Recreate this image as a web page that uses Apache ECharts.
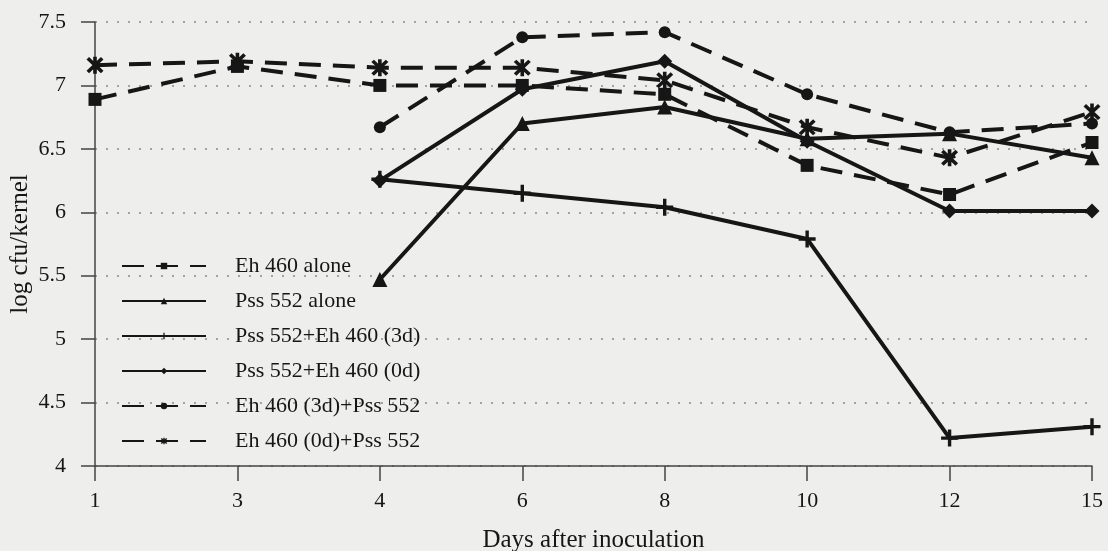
<!DOCTYPE html>
<html>
<head>
<meta charset="utf-8">
<script src="https://cdn.jsdelivr.net/npm/echarts@6/dist/echarts.min.js"></script>
<style>
  html, body { margin: 0; padding: 0; background: #eeeeec; }
  #chart { width: 1108px; height: 551px; }
</style>
</head>
<body>
<div id="chart"></div>
<script>
// days after inoculation
const days = ['1', '3', '4', '6', '8', '10', '12', '15'];

// log cfu/kernel for each treatment
const ehAlone = [6.89, 7.15, 7.0, 7.0, 6.93, 6.37, 6.14, 6.55];
const pssAlone = [null, null, 5.47, 6.70, 6.83, 6.58, 6.62, 6.43];
const pssEh3d = [null, null, 6.26, 6.15, 6.04, 5.79, 4.22, 4.31];
const pssEh0d = [null, null, 6.25, 6.97, 7.19, 6.56, 6.01, 6.01];
const eh3dPss = [null, null, 6.67, 7.38, 7.42, 6.93, 6.63, 6.70];
const eh0dPss = [7.16, 7.19, 7.14, 7.14, 7.04, 6.67, 6.43, 6.79];

const ink = '#161616';
const serif = 'Liberation Serif';

const plusPath = 'path://M4,0h2v4h4v2h-4v4h-2v-4h-4v-2h4z';
const starPath = 'path://M4,0h2v10h-2z' +
    'M1.71,0.29L9.71,8.29L8.29,9.71L0.29,1.71z' +
    'M9.71,1.71L1.71,9.71L0.29,8.29L8.29,0.29z';

function line(name, data, dashed, symbol, size) {
    return {
        name: name,
        type: 'line',
        data: data,
        symbol: symbol,
        symbolSize: size,
        showAllSymbol: true,
        lineStyle: { color: ink, width: 4, type: dashed ? [22, 12] : 'solid' },
        itemStyle: { color: ink },
        emphasis: { disabled: true }
    };
}

const chart = echarts.init(document.getElementById('chart'));
chart.setOption({
    backgroundColor: '#eeeeec',
    animation: false,
    textStyle: { fontFamily: serif, color: ink },
    grid: { left: 95, right: 16, top: 22, bottom: 85, containLabel: false, outerBoundsMode: 'none' },
    legend: {
        orient: 'vertical',
        left: 116,
        top: 250,
        itemWidth: 84,
        itemHeight: 8,
        itemGap: 13,
        lineStyle: { width: 2 },
        textStyle: { fontFamily: serif, fontSize: 22, color: ink, lineHeight: 22, padding: [0, 0, 0, 24] },
        data: ['Eh 460 alone', 'Pss 552 alone', 'Pss 552+Eh 460 (3d)', 'Pss 552+Eh 460 (0d)',
               'Eh 460 (3d)+Pss 552', 'Eh 460 (0d)+Pss 552']
    },
    xAxis: {
        type: 'category',
        data: days,
        boundaryGap: false,
        name: 'Days after inoculation',
        nameLocation: 'middle',
        nameGap: 62,
        nameMoveOverlap: false,
        nameTextStyle: { fontFamily: serif, fontSize: 25, color: ink },
        axisLine: { lineStyle: { color: '#444', width: 1.5 } },
        axisTick: { length: 15, lineStyle: { color: '#444', width: 1.5 } },
        axisLabel: { fontFamily: serif, fontSize: 22, color: ink, margin: 24 },
        splitLine: { show: false }
    },
    yAxis: {
        type: 'value',
        min: 4,
        max: 7.5,
        interval: 0.5,
        name: 'log cfu/kernel',
        nameLocation: 'middle',
        nameGap: 62,
        nameMoveOverlap: false,
        nameTextStyle: { fontFamily: serif, fontSize: 25, color: ink },
        axisLine: { show: true, lineStyle: { color: '#444', width: 1.5 } },
        axisTick: { show: true, length: 14, lineStyle: { color: '#444', width: 1.5 } },
        axisLabel: { fontFamily: serif, fontSize: 22, color: ink, margin: 29 },
        splitLine: { show: true, lineStyle: { color: '#8a8a8a', width: 1.5, type: [2, 9] } }
    },
    series: [
        line('Eh 460 alone', ehAlone, true, 'rect', 13),
        line('Pss 552 alone', pssAlone, false, 'triangle', 15),
        line('Pss 552+Eh 460 (3d)', pssEh3d, false, plusPath, 17),
        line('Pss 552+Eh 460 (0d)', pssEh0d, false, 'diamond', 15),
        line('Eh 460 (3d)+Pss 552', eh3dPss, true, 'circle', 12),
        line('Eh 460 (0d)+Pss 552', eh0dPss, true, starPath, 17)
    ]
});
</script>
</body>
</html>
